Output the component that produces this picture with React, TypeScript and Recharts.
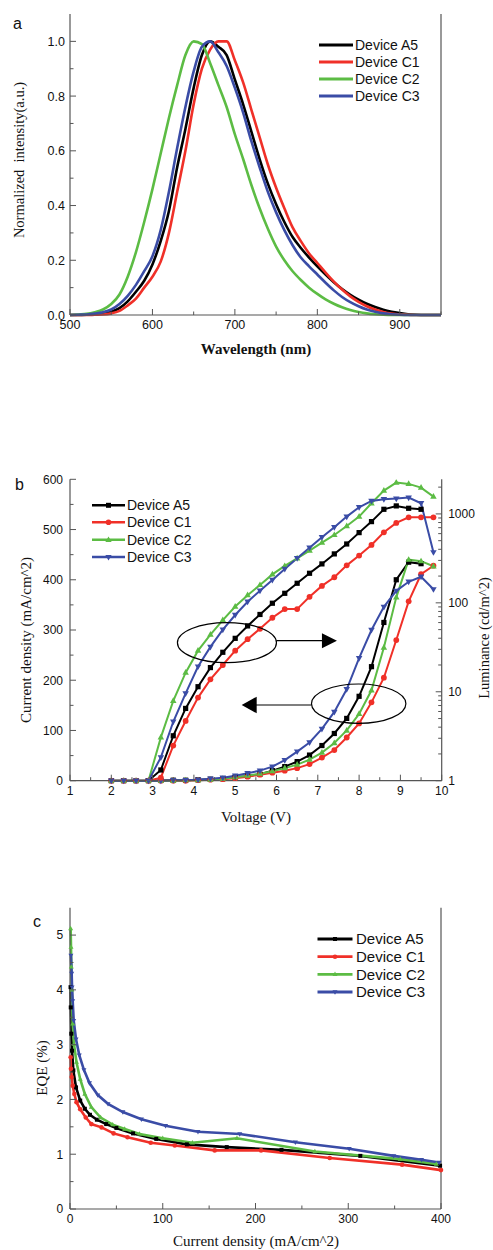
import React from 'react';
import { LineChart, Line, XAxis, YAxis, ReferenceDot } from 'recharts';

const BLACK = '#000000';
const RED = '#f03028';
const GREEN = '#5cbc44';
const BLUE = '#3a4ca6';
const FRAME = '#555555';
const SANS = '"Liberation Sans", Arial, Helvetica, sans-serif';
const SERIF = '"Liberation Serif", "Times New Roman", Times, serif';

const seriesNames = ['Device A5', 'Device C1', 'Device C2', 'Device C3'];
const seriesColors = [BLACK, RED, GREEN, BLUE];
const seriesMarkers = ['square', 'circle', 'up', 'down'];

// ---------- Panel a: EL spectra ----------
const wavelength = [500, 510, 520, 530, 540, 550, 560, 570, 580, 590, 600, 610, 620, 630, 640, 650, 660, 670, 680, 690, 700, 710, 720, 730, 740, 750, 760, 770, 780, 790, 800, 810, 820, 830, 840, 850, 860, 870, 880, 890, 900, 910, 920, 930, 940, 950];
const specA5 = [0, 0, 0.001, 0.003, 0.006, 0.012, 0.025, 0.05, 0.085, 0.125, 0.185, 0.27, 0.38, 0.54, 0.68, 0.83, 0.95, 1.0, 0.98, 0.95, 0.86, 0.77, 0.67, 0.57, 0.48, 0.405, 0.34, 0.285, 0.245, 0.21, 0.178, 0.148, 0.12, 0.095, 0.074, 0.056, 0.041, 0.029, 0.019, 0.012, 0.007, 0.003, 0.001, 0, 0, 0];
const specC1 = [0, 0, 0, 0.001, 0.002, 0.006, 0.015, 0.035, 0.06, 0.1, 0.14, 0.195, 0.3, 0.45, 0.6, 0.77, 0.9, 0.97, 1.0, 1.0, 0.93, 0.85, 0.75, 0.65, 0.55, 0.465, 0.39, 0.32, 0.27, 0.225, 0.19, 0.155, 0.122, 0.093, 0.068, 0.048, 0.032, 0.02, 0.011, 0.005, 0.002, 0.001, 0, 0, 0, 0];
const specC2 = [0, 0.002, 0.004, 0.01, 0.02, 0.04, 0.075, 0.14, 0.23, 0.34, 0.46, 0.59, 0.72, 0.84, 0.95, 1.0, 0.99, 0.92, 0.84, 0.76, 0.66, 0.57, 0.475, 0.39, 0.315, 0.25, 0.2, 0.16, 0.128, 0.1, 0.077, 0.057, 0.041, 0.028, 0.018, 0.011, 0.006, 0.003, 0.001, 0, 0, 0, 0, 0, 0, 0];
const specC3 = [0, 0.001, 0.002, 0.005, 0.01, 0.02, 0.04, 0.07, 0.11, 0.16, 0.215, 0.31, 0.45, 0.61, 0.76, 0.89, 0.98, 1.0, 0.96, 0.91, 0.83, 0.74, 0.635, 0.54, 0.45, 0.375, 0.31, 0.255, 0.21, 0.178, 0.148, 0.118, 0.09, 0.066, 0.047, 0.032, 0.02, 0.012, 0.006, 0.003, 0.001, 0, 0, 0, 0, 0];
const aXTicks = [500, 550, 600, 650, 700, 750, 800, 850, 900, 950];
const aXMajor = [500, 600, 700, 800, 900];
const aYTicks = [0, 0.1, 0.2, 0.3, 0.4, 0.5, 0.6, 0.7, 0.8, 0.9, 1.0];
const aYMajor = [0, 0.2, 0.4, 0.6, 0.8, 1.0];

const specRows = wavelength.map((w, i) => ({ w, A5: specA5[i], C1: specC1[i], C2: specC2[i], C3: specC3[i] }));

// ---------- Panel b: J-V-L ----------
const voltage = [2.0, 2.3, 2.6, 2.9, 3.2, 3.5, 3.8, 4.1, 4.4, 4.7, 5.0, 5.3, 5.6, 5.9, 6.2, 6.5, 6.8, 7.1, 7.4, 7.7, 8.0, 8.3, 8.6, 8.9, 9.2, 9.5, 9.8];
const jA5 = [0, 0, 0, 0, 0.5, 1, 1, 2, 3, 4, 7, 9, 13, 20, 28, 38, 51, 70, 94, 124, 168, 227, 315, 400, 435, 432, null];
const jC1 = [0, 0, 0, 0, 0, 0, 0, 1, 2, 3, 5, 8, 12, 16, 20, 25, 33, 46, 61, 86, 114, 156, 205, 280, 357, 411, 428];
const jC2 = [0, 0, 0, 0, 0, 0, 1, 1, 2, 4, 7, 10, 14, 19, 25, 32, 42, 56, 75, 100, 133, 180, 265, 365, 440, 437, 427];
const jC3 = [0, 0, 0, 0, 0, 1, 1, 2, 4, 6, 10, 15, 20, 28, 41, 58, 76, 103, 137, 182, 244, 300, 346, 378, 396, 406, 381];
const lumA5 = [null, null, null, 1, 1.32, 3.2, 6.5, 11.4, 18.7, 27.8, 39.9, 55, 74, 99, 128, 166, 215, 274, 355, 459, 616, 819, 1127, 1230, 1157, 1127, null];
const lumC1 = [null, null, null, 1, 1.08, 2.48, 4.7, 8.6, 13.8, 20, 29, 39, 51, 68, 85, 85, 117, 155, 194, 264, 340, 448, 621, 791, 916, 916, 916];
const lumC2 = [null, null, null, 1, 3.07, 7.9, 16.4, 29, 44, 64, 91, 122, 159, 209, 260, 317, 386, 475, 580, 732, 933, 1318, 1830, 2250, 2175, 1977, 1566];
const lumC3 = [null, null, null, 1, 1.83, 4.6, 9.6, 19.2, 32, 50, 73, 103, 137, 181, 240, 317, 417, 546, 708, 933, 1188, 1400, 1462, 1486, 1525, 1318, 370];
const bXTicks = [1, 1.5, 2, 2.5, 3, 3.5, 4, 4.5, 5, 5.5, 6, 6.5, 7, 7.5, 8, 8.5, 9, 9.5, 10];
const bXMajor = [1, 2, 3, 4, 5, 6, 7, 8, 9, 10];
const bYTicks = [0, 50, 100, 150, 200, 250, 300, 350, 400, 450, 500, 550, 600];
const bYMajor = [0, 100, 200, 300, 400, 500, 600];
const bLumTicks = [1, 2, 3, 4, 5, 6, 7, 8, 9, 10, 20, 30, 40, 50, 60, 70, 80, 90, 100, 200, 300, 400, 500, 600, 700, 800, 900, 1000, 2000];
const bLumMajor = [1, 10, 100, 1000];
const ellipseRight = { v: 4.8, j: 274.7 };
const ellipseLeft = { v: 7.99, j: 153.3 };

const jvlRows = voltage.map((v, i) => ({
  v,
  jA5: jA5[i], jC1: jC1[i], jC2: jC2[i], jC3: jC3[i],
  lA5: lumA5[i], lC1: lumC1[i], lC2: lumC2[i], lC3: lumC3[i],
}));

// ---------- Panel c: EQE vs J ----------
const eqeA5J = [0.6, 0.8, 1.4, 2.2, 3.6, 6.5, 11, 16, 21.5, 29, 39, 50, 68, 93, 126, 169, 228, 313, 399];
const eqeA5 = [4.05, 3.68, 3.2, 2.89, 2.53, 2.22, 1.98, 1.83, 1.72, 1.63, 1.55, 1.48, 1.38, 1.28, 1.18, 1.13, 1.08, 0.97, 0.79];
const eqeC1J = [0.7, 1, 1.8, 2.9, 4.7, 7, 11, 17, 23, 34, 47, 62, 87, 113, 156, 206, 280, 358, 400];
const eqeC1 = [2.77, 2.56, 2.41, 2.25, 2.1, 1.95, 1.82, 1.67, 1.55, 1.49, 1.38, 1.31, 1.21, 1.16, 1.07, 1.07, 0.93, 0.81, 0.71];
const eqeC2J = [0.7, 1.1, 1.4, 2, 2.9, 4.3, 7, 11, 16, 23, 33, 46, 59, 75, 100, 132, 180, 264, 356, 395];
const eqeC2 = [5.12, 4.78, 4.42, 4.0, 3.38, 3.01, 2.68, 2.37, 2.1, 1.86, 1.67, 1.54, 1.46, 1.37, 1.29, 1.21, 1.29, 1.05, 0.91, 0.82];
const eqeC3J = [1, 1.8, 2.2, 2.9, 4, 6.5, 10, 15, 21, 30, 41, 57, 77, 103, 138, 183, 243, 301, 349, 379, 398];
const eqeC3 = [4.63, 4.3, 4.05, 3.8, 3.44, 3.1, 2.81, 2.54, 2.3, 2.08, 1.92, 1.77, 1.64, 1.52, 1.41, 1.37, 1.22, 1.1, 0.97, 0.9, 0.85];
const cXTicks = [0, 50, 100, 150, 200, 250, 300, 350, 400];
const cXMajor = [0, 100, 200, 300, 400];
const cYTicks = [0, 0.5, 1, 1.5, 2, 2.5, 3, 3.5, 4, 4.5, 5];
const cYMajor = [0, 1, 2, 3, 4, 5];

const zipEqe = (js: number[], es: number[]) => js.map((j, i) => ({ j, eqe: es[i] }));
const eqeSets = [zipEqe(eqeA5J, eqeA5), zipEqe(eqeC1J, eqeC1), zipEqe(eqeC2J, eqeC2), zipEqe(eqeC3J, eqeC3)];

// ---------- helpers ----------
function Marker({ kind, cx, cy, color, s }: { kind: string; cx: number; cy: number; color: string; s: number }) {
  if (kind === 'square') return <rect x={cx - s / 2} y={cy - s / 2} width={s} height={s} fill={color} />;
  if (kind === 'circle') return <circle cx={cx} cy={cy} r={s / 2 + 0.3} fill={color} />;
  const w = s * 1.25;
  const h = s * 1.1;
  if (kind === 'up')
    return <polygon points={`${cx},${cy - h * 0.62} ${cx - w / 2},${cy + h * 0.38} ${cx + w / 2},${cy + h * 0.38}`} fill={color} />;
  return <polygon points={`${cx},${cy + h * 0.62} ${cx - w / 2},${cy - h * 0.38} ${cx + w / 2},${cy - h * 0.38}`} fill={color} />;
}

function dotFor(kind: string, color: string, s: number) {
  return (p: any) => {
    const k = `d${p.index}`;
    if (p.cx == null || p.cy == null || p.value == null || Number.isNaN(p.cx) || Number.isNaN(p.cy)) return <g key={k} />;
    return (
      <g key={k}>
        <Marker kind={kind} cx={p.cx} cy={p.cy} color={color} s={s} />
      </g>
    );
  };
}

function axisTick(side: 'left' | 'right' | 'bottom', majors: number[], fmt: (v: number) => string, fs: number, gap: number) {
  const MJ = 6;
  const MN = 3.5;
  return (props: any) => {
    const { x, y, payload, index } = props;
    const v = payload.value;
    const isMajor = majors.some((m) => Math.abs(m - v) < 1e-6);
    const len = isMajor ? MJ : MN;
    let line;
    let label = null;
    if (side === 'left') {
      line = <line x1={x} y1={y} x2={x + len} y2={y} stroke={FRAME} strokeWidth={1} />;
      if (isMajor)
        label = (
          <text x={x - gap} y={y + fs * 0.36} textAnchor="end" fontSize={fs} fontFamily={SANS} fill="#111">
            {fmt(v)}
          </text>
        );
    } else if (side === 'right') {
      line = <line x1={x} y1={y} x2={x - len} y2={y} stroke={FRAME} strokeWidth={1} />;
      if (isMajor)
        label = (
          <text x={x + gap} y={y + fs * 0.36} textAnchor="start" fontSize={fs} fontFamily={SANS} fill="#111">
            {fmt(v)}
          </text>
        );
    } else {
      line = <line x1={x} y1={y} x2={x} y2={y - len} stroke={FRAME} strokeWidth={1} />;
      if (isMajor)
        label = (
          <text x={x} y={y + gap + fs * 0.72} textAnchor="middle" fontSize={fs} fontFamily={SANS} fill="#111">
            {fmt(v)}
          </text>
        );
    }
    return (
      <g key={`t${index}`}>
        {line}
        {label}
      </g>
    );
  };
}

function LegendBlock({ x1, x2, textX, ys, fs, lw, ms, markers }: { x1: number; x2: number; textX: number; ys: number[]; fs: number; lw: number; ms: number; markers: boolean }) {
  return (
    <g>
      {seriesNames.map((n, i) => (
        <g key={n}>
          <line x1={x1} x2={x2} y1={ys[i]} y2={ys[i]} stroke={seriesColors[i]} strokeWidth={lw} />
          {markers && <Marker kind={seriesMarkers[i]} cx={(x1 + x2) / 2} cy={ys[i]} color={seriesColors[i]} s={ms} />}
          <text x={textX} y={ys[i] + fs * 0.36} fontSize={fs} fontFamily={SANS} fill="#111">
            {n}
          </text>
        </g>
      ))}
    </g>
  );
}

const frameLine = { stroke: FRAME, strokeWidth: 1.2 };
const overlayStyle: React.CSSProperties = { position: 'absolute', left: 0, top: 0, pointerEvents: 'none' };

function PanelA() {
  const keys = ['A5', 'C1', 'C2', 'C3'];
  return (
    <div style={{ position: 'absolute', left: 0, top: 0, width: 493, height: 370 }}>
      <LineChart width={493} height={370} data={specRows} margin={{ top: 14, right: 0, bottom: 25, left: 0 }}>
        <XAxis dataKey="w" type="number" domain={[500, 950]} ticks={aXTicks} interval={0} tickSize={0} tickMargin={0} tickLine={false} axisLine={frameLine} height={30} tick={axisTick('bottom', aXMajor, (v) => String(v), 12.5, 5)} />
        <XAxis xAxisId="top" orientation="top" type="number" domain={[500, 950]} height={0} tick={false} tickLine={false} axisLine={frameLine} />
        <YAxis type="number" domain={[0, 1.1]} ticks={aYTicks} interval={0} tickSize={0} tickMargin={0} tickLine={false} axisLine={frameLine} width={70} tick={axisTick('left', aYMajor, (v) => v.toFixed(1), 12.5, 5)} />
        <YAxis yAxisId="r" orientation="right" type="number" domain={[0, 1.1]} width={52} tick={false} tickLine={false} axisLine={frameLine} />
        {keys.map((k, i) => (
          <Line key={k} dataKey={k} type="monotone" stroke={seriesColors[i]} strokeWidth={2.6} dot={false} isAnimationActive={false} />
        ))}
      </LineChart>
      <svg width={493} height={370} style={overlayStyle}>
        <text x={13} y={29} fontSize={16} fontFamily={SANS} fill="#111">a</text>
        <LegendBlock x1={319} x2={353} textX={355} ys={[45, 62, 79, 96]} fs={14} lw={3} ms={0} markers={false} />
        <text x={24} y={160} transform="rotate(-90 24 160)" textAnchor="middle" fontSize={14.5} fontFamily={SERIF} fill="#111" style={{ whiteSpace: 'pre' }}>
          {'Normalized  intensity(a.u.)'}
        </text>
        <text x={256} y={354} textAnchor="middle" fontSize={15} fontWeight="bold" fontFamily={SERIF} fill="#111">
          Wavelength (nm)
        </text>
      </svg>
    </div>
  );
}

function EllipseRight(p: any) {
  const { cx, cy } = p;
  return (
    <g>
      <ellipse cx={cx} cy={cy} rx={49.5} ry={20} fill="none" stroke="#000" strokeWidth={1.2} />
      <line x1={cx + 49.5} y1={cy - 2} x2={cx + 96} y2={cy - 2} stroke="#000" strokeWidth={1.2} />
      <polygon points={`${cx + 110},${cy - 2} ${cx + 95},${cy - 9.5} ${cx + 95},${cy + 5.5}`} fill="#000" />
    </g>
  );
}

function EllipseLeft(p: any) {
  const { cx, cy } = p;
  return (
    <g>
      <ellipse cx={cx} cy={cy} rx={47.2} ry={19.7} fill="none" stroke="#000" strokeWidth={1.2} />
      <line x1={cx - 47.2} y1={cy + 1.3} x2={cx - 103} y2={cy + 1.3} stroke="#000" strokeWidth={1.2} />
      <polygon points={`${cx - 117},${cy + 1.3} ${cx - 102},${cy - 7} ${cx - 102},${cy + 9.6}`} fill="#000" />
    </g>
  );
}

function PanelB() {
  const keys = ['A5', 'C1', 'C2', 'C3'];
  return (
    <div style={{ position: 'absolute', left: 0, top: 400, width: 493, height: 430 }}>
      <LineChart width={493} height={430} data={jvlRows} margin={{ top: 79.3, right: 0, bottom: 19.3, left: 0 }}>
        <XAxis dataKey="v" type="number" domain={[1, 10]} ticks={bXTicks} interval={0} tickSize={0} tickMargin={0} tickLine={false} axisLine={frameLine} height={30} tick={axisTick('bottom', bXMajor, (v) => String(v), 12, 6)} />
        <XAxis xAxisId="top" orientation="top" type="number" domain={[1, 10]} height={0} tick={false} tickLine={false} axisLine={frameLine} />
        <YAxis yAxisId="left" type="number" domain={[0, 600]} ticks={bYTicks} interval={0} tickSize={0} tickMargin={0} tickLine={false} axisLine={frameLine} width={70} tick={axisTick('left', bYMajor, (v) => String(v), 12, 7)} />
        <YAxis yAxisId="right" orientation="right" type="number" scale="log" domain={[1, 2450]} allowDataOverflow ticks={bLumTicks} interval={0} tickSize={0} tickMargin={0} tickLine={false} axisLine={frameLine} width={51.3} tick={axisTick('right', bLumMajor, (v) => String(v), 12, 6.5)} />
        {keys.map((k, i) => (
          <Line key={`j${k}`} yAxisId="left" dataKey={`j${k}`} type="linear" stroke={seriesColors[i]} strokeWidth={2} dot={dotFor(seriesMarkers[i], seriesColors[i], 5.2)} isAnimationActive={false} />
        ))}
        {keys.map((k, i) => (
          <Line key={`l${k}`} yAxisId="right" dataKey={`l${k}`} type="linear" stroke={seriesColors[i]} strokeWidth={2} dot={dotFor(seriesMarkers[i], seriesColors[i], 5.2)} isAnimationActive={false} />
        ))}
        <ReferenceDot yAxisId="left" x={ellipseRight.v} y={ellipseRight.j} r={1} shape={EllipseRight} />
        <ReferenceDot yAxisId="left" x={ellipseLeft.v} y={ellipseLeft.j} r={1} shape={EllipseLeft} />
      </LineChart>
      <svg width={493} height={430} style={overlayStyle}>
        <text x={15} y={90} fontSize={16} fontFamily={SANS} fill="#111">b</text>
        <LegendBlock x1={92} x2={125} textX={127} ys={[105.3, 122.3, 139.8, 157]} fs={14} lw={2.4} ms={5} markers={true} />
        <text x={31} y={240} transform="rotate(-90 31 240)" textAnchor="middle" fontSize={15} fontFamily={SERIF} fill="#111">
          Current density (mA/cm^2)
        </text>
        <text x={489} y={238} transform="rotate(-90 489 238)" textAnchor="middle" fontSize={14.5} fontFamily={SERIF} fill="#111">
          Luminance (cd/m^2)
        </text>
        <text x={256} y={421.7} textAnchor="middle" fontSize={15} fontFamily={SERIF} fill="#111">
          Voltage (V)
        </text>
      </svg>
    </div>
  );
}

function PanelC() {
  return (
    <div style={{ position: 'absolute', left: 0, top: 840, width: 493, height: 410 }}>
      <LineChart width={493} height={410} margin={{ top: 67.7, right: 0, bottom: 11, left: 0 }}>
        <XAxis dataKey="j" type="number" domain={[0, 400]} ticks={cXTicks} interval={0} tickSize={0} tickMargin={0} tickLine={false} axisLine={frameLine} height={30} tick={axisTick('bottom', cXMajor, (v) => String(v), 12, 5.5)} allowDuplicatedCategory={false} />
        <XAxis xAxisId="top" orientation="top" type="number" domain={[0, 400]} height={0} tick={false} tickLine={false} axisLine={frameLine} />
        <YAxis type="number" domain={[0, 5.5]} ticks={cYTicks} interval={0} tickSize={0} tickMargin={0} tickLine={false} axisLine={frameLine} width={70} tick={axisTick('left', cYMajor, (v) => String(v), 12, 6.7)} />
        <YAxis yAxisId="r" orientation="right" type="number" domain={[0, 5.5]} width={52} tick={false} tickLine={false} axisLine={frameLine} />
        {eqeSets.map((d, i) => (
          <Line key={seriesNames[i]} data={d} dataKey="eqe" type="linear" stroke={seriesColors[i]} strokeWidth={2.6} dot={dotFor(seriesMarkers[i], seriesColors[i], 4)} isAnimationActive={false} />
        ))}
      </LineChart>
      <svg width={493} height={410} style={overlayStyle}>
        <text x={33} y={87} fontSize={16} fontFamily={SANS} fill="#111">c</text>
        <LegendBlock x1={317.5} x2={352.5} textX={356} ys={[99, 116.7, 134.3, 152]} fs={15} lw={2.8} ms={4} markers={true} />
        <text x={47} y={228} transform="rotate(-90 47 228)" textAnchor="middle" fontSize={15} fontFamily={SERIF} fill="#111">
          EQE (%)
        </text>
        <text x={256} y={406} textAnchor="middle" fontSize={15} fontFamily={SERIF} fill="#111">
          Current density (mA/cm^2)
        </text>
      </svg>
    </div>
  );
}

export default function App() {
  return (
    <div style={{ position: 'absolute', left: 0, top: 0, width: 493, height: 1250, background: '#fff', overflow: 'hidden' }}>
      <PanelA />
      <PanelB />
      <PanelC />
    </div>
  );
}
